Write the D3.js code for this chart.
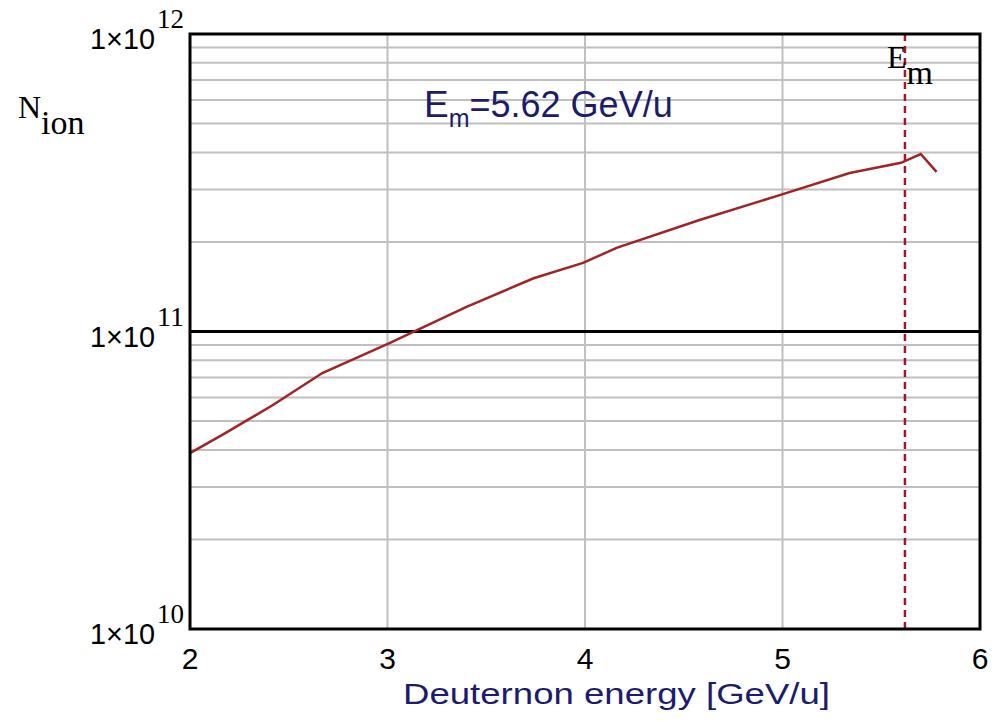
<!DOCTYPE html>
<html>
<head>
<meta charset="utf-8">
<script src="https://cdn.jsdelivr.net/npm/d3@7"></script>
<style>
  body { margin: 0; background: #fff; }
  svg { display: block; }
</style>
</head>
<body>
<div id="chart"></div>
<script>
(function () {
	"use strict";

	// values
	var energy = [2.0, 2.17, 2.42, 2.67, 3.01, 3.4, 3.74, 3.99, 4.16, 4.58, 4.99, 5.34, 5.6, 5.7, 5.78];
	var nIon = [3.9e10, 4.52e10, 5.66e10, 7.25e10, 9.14e10, 1.21e11, 1.51e11, 1.70e11, 1.91e11,
		2.37e11, 2.88e11, 3.41e11, 3.69e11, 3.95e11, 3.44e11];
	var xTicks = [2, 3, 4, 5, 6];
	var yDecades = [10, 11, 12];
	var eMax = 5.62;

	var width = 1007, height = 722;
	var left = 190, right = 980, top = 34, bottom = 629;

	var x = d3.scaleLinear().domain([2, 6]).range([left, right]);
	var y = d3.scaleLog().domain([1e10, 1e12]).range([bottom, top]);

	var svg = d3.select('#chart')
		.append('svg')
		.attr('width', width)
		.attr('height', height);

	svg.append('rect')
		.attr('width', width)
		.attr('height', height)
		.attr('fill', '#fff');

	// minor horizontal grid
	var minor = [];
	yDecades.slice(0, -1).forEach(function (d) {
		for (var k = 2; k <= 9; k++) minor.push(k * Math.pow(10, d));
	});

	var grid = svg.append('g').attr('stroke', '#c0c0c0').attr('stroke-width', 2);
	grid.selectAll('.hgrid')
		.data(minor)
		.enter()
		.append('line')
		.attr('x1', left).attr('x2', right)
		.attr('y1', function (d) { return y(d); })
		.attr('y2', function (d) { return y(d); });

	grid.selectAll('.vgrid')
		.data(xTicks.slice(1, -1))
		.enter()
		.append('line')
		.attr('y1', top).attr('y2', bottom)
		.attr('x1', function (d) { return x(d); })
		.attr('x2', function (d) { return x(d); });

	// major decade line
	svg.selectAll('.major')
		.data(yDecades.slice(1, -1))
		.enter()
		.append('line')
		.attr('x1', left).attr('x2', right)
		.attr('y1', function (d) { return y(Math.pow(10, d)); })
		.attr('y2', function (d) { return y(Math.pow(10, d)); })
		.attr('stroke', '#000')
		.attr('stroke-width', 3);

	// Em marker
	svg.append('line')
		.attr('x1', x(eMax)).attr('x2', x(eMax))
		.attr('y1', top).attr('y2', bottom)
		.attr('stroke', '#a01828')
		.attr('stroke-width', 2.5)
		.attr('stroke-dasharray', '7,5');

	// curve
	var line = d3.line()
		.x(function (d) { return x(d[0]); })
		.y(function (d) { return y(d[1]); });

	svg.append('path')
		.datum(d3.zip(energy, nIon))
		.attr('d', line)
		.attr('fill', 'none')
		.attr('stroke', '#a12424')
		.attr('stroke-width', 2.5);

	// frame
	svg.append('rect')
		.attr('x', left).attr('y', top)
		.attr('width', right - left)
		.attr('height', bottom - top)
		.attr('fill', 'none')
		.attr('stroke', '#000')
		.attr('stroke-width', 3);

	// x tick labels
	svg.selectAll('.xlab')
		.data(xTicks)
		.enter()
		.append('text')
		.attr('x', function (d) { return x(d); })
		.attr('y', 669)
		.attr('text-anchor', 'middle')
		.attr('font-family', 'Liberation Sans, Arial, sans-serif')
		.attr('font-size', 30)
		.attr('fill', '#000')
		.text(function (d) { return d; });

	// y tick labels 1x10^n
	var ylab = svg.selectAll('.ylab')
		.data(yDecades)
		.enter()
		.append('g');

	ylab.append('text')
		.attr('x', 155)
		.attr('y', function (d) { return y(Math.pow(10, d)) + 15; })
		.attr('text-anchor', 'end')
		.attr('font-family', 'Liberation Sans, Arial, sans-serif')
		.attr('font-size', 30)
		.attr('textLength', 65)
		.attr('lengthAdjust', 'spacingAndGlyphs')
		.text('1\u00d710');

	ylab.append('text')
		.attr('x', 157)
		.attr('y', function (d) { return y(Math.pow(10, d)) - 6; })
		.attr('font-family', 'Liberation Serif, Times New Roman, serif')
		.attr('font-size', 27)
		.attr('textLength', 27)
		.attr('lengthAdjust', 'spacingAndGlyphs')
		.text(function (d) { return d; });

	// y axis title
	var ny = svg.append('text')
		.attr('x', 18)
		.attr('y', 118)
		.attr('font-family', 'Liberation Serif, Times New Roman, serif')
		.attr('fill', '#000');
	ny.append('tspan').attr('font-size', 32).text('N');
	ny.append('tspan').attr('font-size', 34).attr('dy', 16).text('ion');

	// Em label at the marker
	var em = svg.append('text')
		.attr('x', 887)
		.attr('y', 68)
		.attr('font-family', 'Liberation Serif, Times New Roman, serif')
		.attr('fill', '#000');
	em.append('tspan').attr('font-size', 32).text('E');
	em.append('tspan').attr('font-size', 34).attr('dy', 16).text('m');

	// annotation
	var ann = svg.append('text')
		.attr('x', 424)
		.attr('y', 117)
		.attr('font-family', 'Liberation Sans, Arial, sans-serif')
		.attr('fill', '#1c1c6e');
	ann.append('tspan').attr('font-size', 37).text('E');
	ann.append('tspan').attr('font-size', 25).attr('dy', 10).text('m');
	ann.append('tspan').attr('font-size', 36).attr('dy', -10).text('=5.62 GeV/u');

	// x axis title
	svg.append('text')
		.attr('x', 403)
		.attr('y', 704)
		.attr('font-family', 'Liberation Sans, Arial, sans-serif')
		.attr('font-size', 30)
		.attr('fill', '#1c1c6e')
		.attr('textLength', 427)
		.attr('lengthAdjust', 'spacingAndGlyphs')
		.text('Deuternon energy [GeV/u]');
}());
</script>
</body>
</html>
